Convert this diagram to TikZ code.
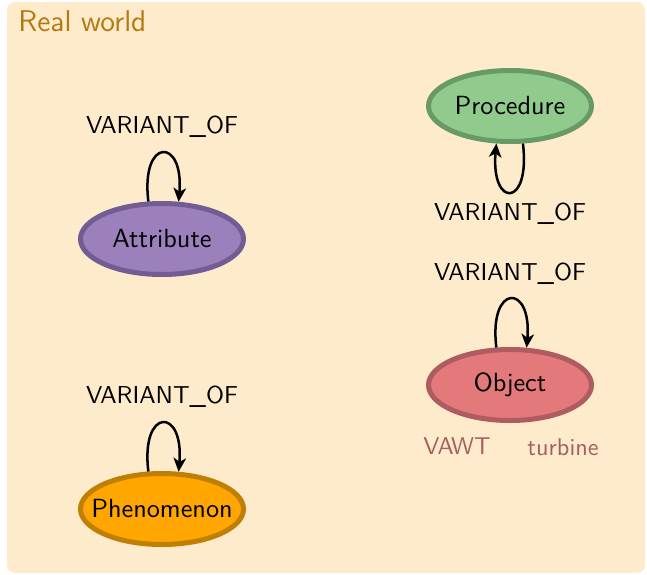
\documentclass[tikz,border=0pt]{standalone}
\usetikzlibrary{arrows.meta, shapes.geometric}

\definecolor{paper}{HTML}{FDEBCC}
\definecolor{titlecol}{HTML}{B5790F}
\definecolor{attrfill}{HTML}{9B80BC}
\definecolor{attrdraw}{HTML}{735C94}
\definecolor{procfill}{HTML}{90CB8D}
\definecolor{procdraw}{HTML}{689A66}
\definecolor{objfill}{HTML}{E4797B}
\definecolor{objdraw}{HTML}{AE5C5F}
\definecolor{phenfill}{HTML}{FFA600}
\definecolor{phendraw}{HTML}{C07F00}
\definecolor{aliascol}{HTML}{A65E5E}

\begin{document}
\begin{tikzpicture}[
    x=0.4pt, y=-0.4pt,
    font=\sffamily\fontsize{10.5}{12}\selectfont,
    ent/.style={ellipse, line width=2pt, inner sep=0pt,
                minimum width=65.2pt, minimum height=28.4pt},
    selfloop/.style={-{Stealth[length=5.5pt, width=5pt, inset=1.5pt]}, line width=1pt, black},
    rel/.style={black, font=\sffamily\fontsize{9.8}{12}\selectfont},
    alias/.style={text=aliascol, font=\sffamily\fontsize{9.7}{11}\selectfont}
]

% ---- frame ----
\useasboundingbox (0,0) rectangle (647,574);
\fill[paper, rounded corners=3.2pt] (7,2) rectangle (645,573);
\node[anchor=base west, inner sep=0pt, text=titlecol, font=\sffamily\fontsize{12}{14}\selectfont] (title) at (18,31) {Real world};

% ---- entity types ----
\node[ent, fill=attrfill, draw=attrdraw, label=center:Attribute] (attr) at (162,239) {};
\node[ent, fill=procfill, draw=procdraw, label=center:Procedure] (proc) at (510,106) {};
\node[ent, fill=objfill, draw=objdraw, label=center:Object] (obj) at (510,385) {};
\node[ent, fill=phenfill, draw=phendraw, label=center:Phenomenon] (phen) at (162,509) {};

% ---- VARIANT_OF self loops ----
\draw[selfloop] (attr.110) to[out=97, in=85, distance=26pt] (attr.66);
\node[rel] (attrrel) at (162,127) {VARIANT\_OF};

\draw[selfloop] (proc.289) to[out=-83, in=-95, distance=26pt] (proc.250);
\node[rel] (procrel) at (510,214) {VARIANT\_OF};

\draw[selfloop] (obj.110) to[out=97, in=85, distance=26pt] (obj.66);
\node[rel] (objrel) at (510,274) {VARIANT\_OF};

\draw[selfloop] (phen.110) to[out=97, in=85, distance=26pt] (phen.66);
\node[rel] (phenrel) at (162,397) {VARIANT\_OF};

% ---- aliases ----
\node[alias] (vawt) at (457,446) {VAWT};
\node[alias] (turb) at (563,447) {turbine};

\end{tikzpicture}
\end{document}
